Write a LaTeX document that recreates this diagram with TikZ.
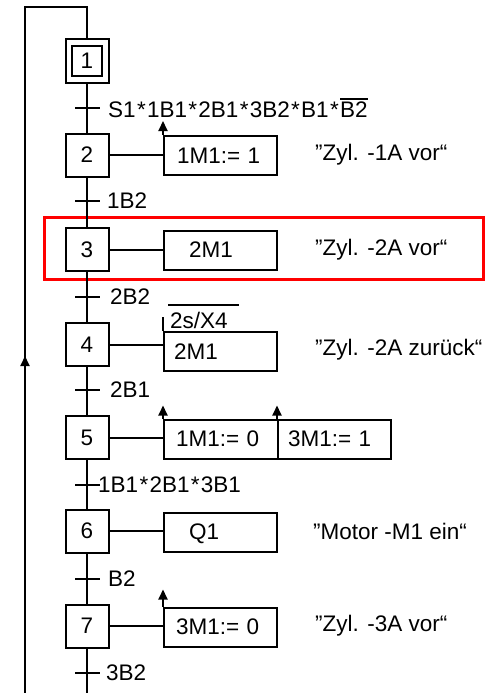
\documentclass[tikz,border=0pt]{standalone}
\usepackage{fontspec}
\setmainfont{Liberation Sans}
\usetikzlibrary{arrows.meta}
\newcommand{\ovbar}[1]{\setbox0\hbox{#1}\rlap{\rule[\dimexpr\ht0+2.5pt\relax]{\wd0}{1.5pt}}#1}
\newcommand{\st}{\kern1.3pt*\kern1.3pt}
\begin{document}
\begin{tikzpicture}[x=1pt,y=-1pt,
  every node/.style={font=\fontsize{22.5}{26}\selectfont},
  ln/.style={line width=2pt},
  stepbox/.style={draw,line width=2pt,minimum size=43pt,inner sep=0pt},
  act/.style={draw,line width=2pt,minimum height=39pt,text width=113pt,text depth=0pt,inner xsep=0pt,inner ysep=0pt,align=left,anchor=west},
  lbl/.style={anchor=west,inner sep=0pt},
  tip/.style={-{Triangle[width=9pt,length=10pt]}}
]
\useasboundingbox (0,0) rectangle (492,693);
% red highlight
\draw[red,line width=3pt] (44,217) rectangle (483,279);
% steps
\node[stepbox] (s1) at (87,61) {};
\node[draw,line width=2pt,minimum size=30pt,inner sep=0pt] (s1i) at (87,61) {1};
\node[stepbox] (s2) at (87,155) {2};
\node[stepbox] (s3) at (87,249.5) {3};
\node[stepbox] (s4) at (87,344.5) {4};
\node[stepbox] (s5) at (87,437.5) {5};
\node[stepbox] (s6) at (87,531) {6};
\node[stepbox] (s7) at (87,626) {7};
% loop
\coordinate (tr) at (87,7);
\coordinate (tl) at (25,7);
\coordinate (bl) at (25,693);
\coordinate (bm) at (87,693);
\coordinate (la) at (25,356);
\draw[ln] (s1.north) -- (tr) -- (tl) -- (bl);
\draw[ln,tip] (bl) -- (la);
% main chain
\draw[ln] (s1.south) -- (s2.north) (s2.south) -- (s3.north) (s3.south) -- (s4.north)
  (s4.south) -- (s5.north) (s5.south) -- (s6.north) (s6.south) -- (s7.north) (s7.south) -- (bm);
% transitions
\foreach \y/\nm in {108/t1,201/t2,297/t3,390/t4,485/t5,579/t6,673/t7}{
  \coordinate (\nm l) at (75,\y);
  \coordinate (\nm r) at (100,\y);
  \draw[ln] (\nm l) -- (\nm r);
}
\node[lbl] (c1) at (108,108) {S1\st1B1\st2B1\st3B2\st B1\st\ovbar{B2}};
\node[lbl] (c2) at (107,201) {1B2};
\node[lbl] (c3) at (110,297) {2B2};
\node[lbl] (c4) at (110,390) {2B1};
\node[lbl] (c5) at (98,485) {1B1\st2B1\st3B1};
\node[lbl] (c6) at (108,579) {B2};
\node[lbl] (c7) at (106,673) {3B2};
% actions
\node[act] (a2) at (163,155.5) {\hspace*{13pt}1M1:= 1};
\node[act] (a3) at (163,250) {\hspace*{25pt}2M1};
\node[act] (a4) at (163,351.5) {\hspace*{10pt}2M1};
\node[act,text width=114pt] (a5a) at (163,439) {\hspace*{12pt}1M1:= 0};
\node[act] (a5b) at (277,439) {\hspace*{10pt}3M1:= 1};
\node[act] (a6) at (163,532) {\hspace*{25pt}Q1};
\node[act] (a7) at (163,627) {\hspace*{12pt}3M1:= 0};
\draw[ln] (s2.east) -- (s2.east -| a2.west);
\draw[ln] (s3.east) -- (s3.east -| a3.west);
\draw[ln] (s4.east) -- (s4.east -| a4.west);
\draw[ln] (s5.east) -- (s5.east -| a5a.west);
\draw[ln] (s6.east) -- (s6.east -| a6.west);
\draw[ln] (s7.east) -- (s7.east -| a7.west);
% stored action arrows
\draw[ln,tip] (a2.north west) -- ++(0,-14);
\draw[ln,tip] (a5a.north west) -- ++(0,-13);
\draw[ln,tip] (a5b.north west) -- ++(0,-13);
\draw[ln,tip] (a7.north west) -- ++(0,-17);
% time condition on step 4
\draw[ln] (a4.north west) -- ++(0,-14);
\node[lbl] (tc) at (170,320) {2s/X4};
\coordinate (ob1) at (168,305);
\coordinate (ob2) at (239,305);
\draw[ln] (ob1) -- (ob2);
% comments
\node[lbl] (k2) at (315,155) {”Zyl. -1A vor“};
\node[lbl] (k3) at (315,250) {”Zyl. -2A vor“};
\node[lbl] (k4) at (315,350) {”Zyl. -2A zurück“};
\node[lbl] (k6) at (313,531) {”Motor -M1 ein“};
\node[lbl] (k7) at (315,626) {”Zyl. -3A vor“};
\end{tikzpicture}
\end{document}
